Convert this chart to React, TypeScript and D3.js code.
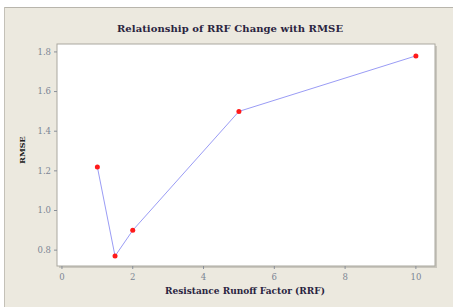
import * as d3 from 'd3';

const rrf = [1, 1.5, 2, 5, 10];
const rmse = [1.22, 0.77, 0.9, 1.5, 1.78];
const xTicks = [0, 2, 4, 6, 8, 10];
const yTicks = [0.8, 1.0, 1.2, 1.4, 1.6, 1.8];

export default function App() {
  const width = 453;
  const height = 307;
  const plot = { left: 57, right: 435, top: 44, bottom: 266 };

  const x = d3.scaleLinear().domain([-0.14, 10.54]).range([plot.left, plot.right]);
  const y = d3.scaleLinear().domain([0.72, 1.84]).range([plot.bottom, plot.top]);

  const line = d3
    .line<number>()
    .x((_, i) => x(rrf[i]))
    .y((d) => y(d));

  return (
    <svg
      width={width}
      height={height}
      style={{ position: 'absolute', left: 0, top: 0, display: 'block' }}
      fontFamily="'DejaVu Serif', serif"
    >
      <rect width={width} height={height} fill="#ffffff" />
      <rect x={4} y={7} width={width - 4} height={height - 7} fill="#ece9df" />
      <line x1={4} x2={width} y1={7.5} y2={7.5} stroke="#b8b5ac" />
      <line x1={4.5} x2={4.5} y1={7} y2={height} stroke="#c4c1b8" />

      <text
        x={230}
        y={32}
        textAnchor="middle"
        fontSize={10}
        fontWeight="bold"
        fill="#2a2440"
        textLength={226}
      >
        Relationship of RRF Change with RMSE
      </text>

      {/* plot area */}
      <rect
        x={plot.left + 2}
        y={plot.top + 2}
        width={plot.right - plot.left}
        height={plot.bottom - plot.top}
        fill="#c9c6bd"
      />
      <rect
        x={plot.left}
        y={plot.top}
        width={plot.right - plot.left}
        height={plot.bottom - plot.top}
        fill="#ffffff"
        stroke="#aaa89f"
      />

      {/* y axis */}
      {yTicks.map((t) => (
        <g key={t} transform={`translate(${plot.left},${y(t)})`}>
          <line x1={-3} x2={0} stroke="#8a8f98" />
          <text x={-6} dy="0.32em" textAnchor="end" fontSize={8.5} fill="#7b8594">
            {t.toFixed(1)}
          </text>
        </g>
      ))}
      <text
        transform={`translate(25,${(plot.top + plot.bottom) / 2 - 5}) rotate(-90)`}
        textAnchor="middle"
        fontSize={8}
        fontWeight="bold"
        fill="#222"
      >
        RMSE
      </text>

      {/* x axis */}
      {xTicks.map((t) => (
        <g key={t} transform={`translate(${x(t)},${plot.bottom})`}>
          <line y1={0} y2={3} stroke="#8a8f98" />
          <text y={14} textAnchor="middle" fontSize={8.5} fill="#7b8594">
            {t}
          </text>
        </g>
      ))}
      <text
        x={245}
        y={294}
        textAnchor="middle"
        fontSize={9}
        fontWeight="bold"
        fill="#2a2440"
      >
        Resistance Runoff Factor (RRF)
      </text>

      <path d={line(rmse) ?? ''} fill="none" stroke="#9a9cf5" strokeWidth={1} />
      {rmse.map((v, i) => (
        <circle key={i} cx={x(rrf[i])} cy={y(v)} r={2.5} fill="#ff1a1a" />
      ))}
    </svg>
  );
}
